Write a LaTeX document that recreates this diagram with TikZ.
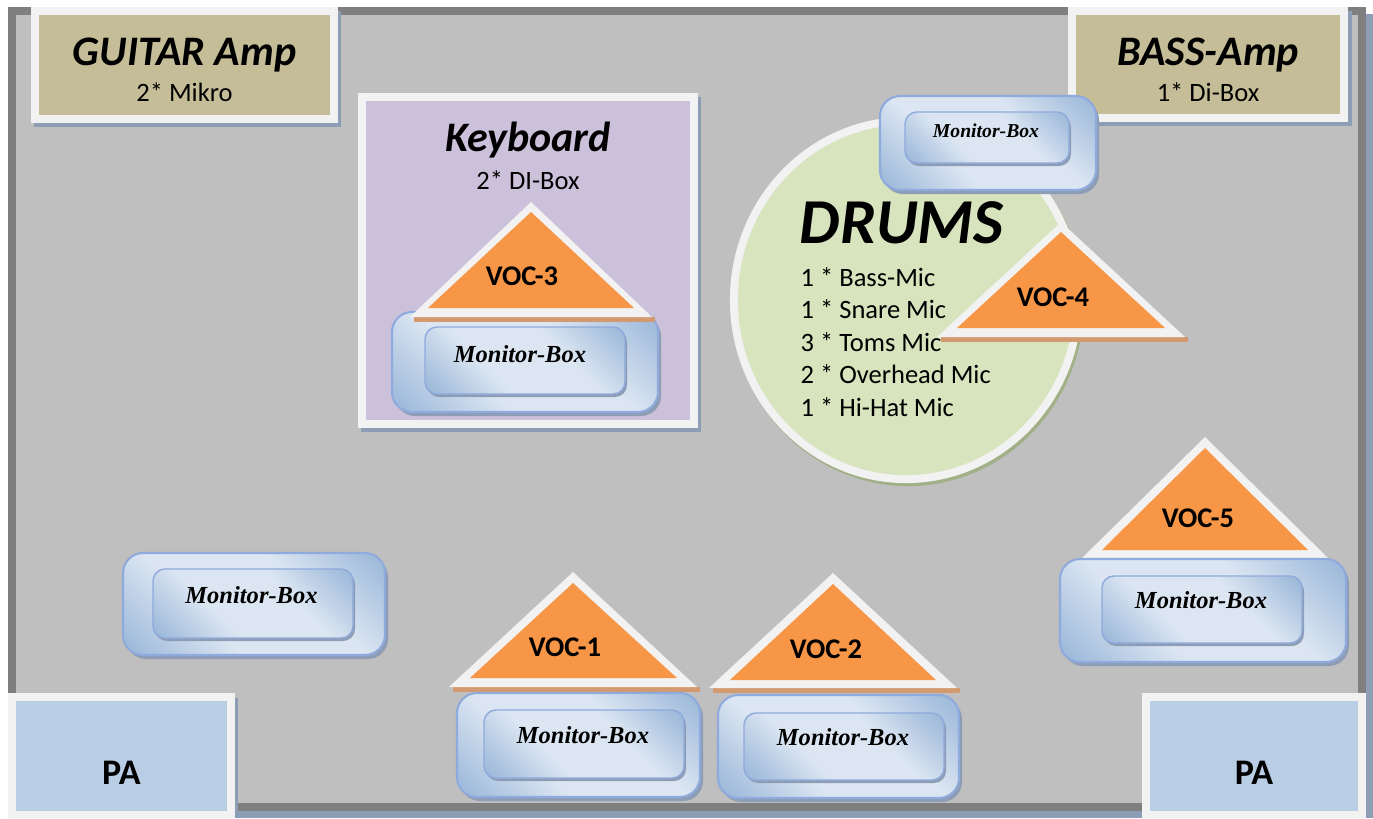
\documentclass[tikz,border=0pt]{standalone}
\usepackage{fontspec}
\setmainfont{Carlito}
\newfontfamily\serifbi{Liberation Serif}
\definecolor{stage}{HTML}{BFBFBF}
\definecolor{framec}{HTML}{7F7F7F}
\definecolor{wb}{HTML}{F2F2F2}
\definecolor{amptan}{HTML}{C4BD97}
\definecolor{kbd}{HTML}{CCC1DA}
\definecolor{drum}{HTML}{D7E4BD}
\definecolor{vocc}{HTML}{F79646}
\definecolor{pac}{HTML}{B9CDE5}
\definecolor{mlight}{HTML}{DCE6F2}
\definecolor{mdark}{HTML}{95B3D7}
\definecolor{mborder}{HTML}{8FAADC}
\definecolor{shadowc}{HTML}{8E9DB6}
\definecolor{oshadowc}{HTML}{D39A70}
\definecolor{gshadowc}{HTML}{A2B088}
\pgfdeclarehorizontalshading{monitor}{100bp}{color(0bp)=(mdark); color(14bp)=(mdark); color(38bp)=(mlight); color(62bp)=(mlight); color(86bp)=(mdark); color(100bp)=(mdark)}
\newcommand{\monbox}[8]{%
  \fill[shadowc,rounded corners=5.7pt] ({#1+3},{#2+4}) rectangle ({#3+3},{#4+4});
  \path[shade,shading=monitor,shading angle=45,draw=mborder,line width=0.6pt,rounded corners=5.7pt] (#1,#2) rectangle (#3,#4);
  \fill[shadowc,rounded corners=3.4pt] ({#5+2},{#6+3}) rectangle ({#7+2},{#8+3});
  \path[shade,shading=monitor,shading angle=45,draw=mborder,line width=0.4pt,rounded corners=3.4pt] (#5,#6) rectangle (#7,#8);
}
\newcommand{\vocshape}[9]{%
  \fill[oshadowc] ({#4+4},#3) rectangle ({#5+3},{#3+4.5});
  \fill[wb] (#1,#2) -- (#5,#3) -- (#4,#3) -- cycle;
  \fill[vocc] (#1,#6) -- (#9,#7) -- (#8,#7) -- cycle;
}
\begin{document}
\begin{tikzpicture}[x=0.01cm,y=-0.01cm,
  title/.style={font=\fontsize{11.95}{14}\selectfont\bfseries\itshape, inner sep=0pt, anchor=base},
  sub/.style={font=\fontsize{7.54}{9}\selectfont, inner sep=0pt, anchor=base},
  miclbl/.style={sub, anchor=base west},
  drumlbl/.style={font=\fontsize{18.2}{21}\selectfont\bfseries\itshape, inner sep=0pt, anchor=base west},
  voclbl/.style={font=\fontsize{8.1}{10}\selectfont\bfseries, inner sep=0pt, anchor=base},
  monlbl/.style={font=\serifbi\fontsize{6.97}{8}\selectfont\bfseries\itshape, inner sep=0pt, anchor=base},
  monlblsmall/.style={font=\serifbi\fontsize{5.6}{7}\selectfont\bfseries\itshape, inner sep=0pt, anchor=base},
  palbl/.style={font=\fontsize{10.24}{12}\selectfont\bfseries, inner sep=0pt, anchor=base}]
\useasboundingbox (0,0) rectangle (1373,818);
% background and stage frame
\fill[white] (0,0) rectangle (1373,818);
\fill[shadowc] (14,14) rectangle (1373,818);
\fill[framec] (8,7) rectangle (1366,811);
\fill[stage] (16,15) rectangle (1358,803);
% PA boxes
\fill[shadowc] (11,698) rectangle (238,818);
\fill[wb] (8,693) rectangle (235,818);
\fill[pac] (16,701) rectangle (227,811);
\fill[wb] (1142,693) rectangle (1366,818);
\fill[pac] (1150,701) rectangle (1358,811);
% Guitar amp
\fill[shadowc] (34,11) rectangle (341,127);
\fill[wb] (31,7) rectangle (338,123);
\fill[amptan] (39,15) rectangle (330,115);
% Bass amp
\fill[shadowc] (1071,11) rectangle (1352,126);
\fill[wb] (1068,7) rectangle (1348,122);
\fill[amptan] (1076,15) rectangle (1340,114);
% Keyboard
\fill[shadowc] (361,97) rectangle (701,432);
\fill[wb] (358,93) rectangle (698,428);
\fill[kbd] (366,101) rectangle (690,420);
\monbox{392}{312}{658}{412}{425}{327}{625}{394}
\vocshape{531}{202}{317}{410}{652}{212}{308}{428}{634}
% Drums
\fill[gshadowc] (908,303) ellipse [x radius=1.76cm, y radius=1.83cm];
\fill[wb] (906,300) ellipse [x radius=1.76cm, y radius=1.83cm];
\fill[drum] (906,300) ellipse [x radius=1.68cm, y radius=1.75cm];
\monbox{880}{96}{1096}{190}{905}{112}{1069}{163}
\vocshape{1061}{222}{337}{937}{1185}{232}{328}{957}{1165}
% front monitors and vocals
\monbox{123}{553}{385}{655}{153}{569}{353}{638}
\vocshape{573}{572}{687}{449}{697}{583}{678}{470}{677}
\monbox{457}{693}{700}{797}{484}{710}{684}{778}
\vocshape{833}{573}{688}{709}{957}{584}{680}{730}{936}
\monbox{718}{695}{959}{798}{744}{713}{944}{780}
\vocshape{1205}{437}{558}{1082}{1328}{448}{550}{1102}{1308}
\monbox{1060}{559}{1346}{662}{1102}{576}{1302}{643}
% texts
\node[title] (gt) at (184.5,65) {GUITAR Amp};
\node[sub] (gs) at (184.5,101) {2* Mikro};
\node[title] (bt) at (1208,65) {BASS-Amp};
\node[sub] (bs) at (1208,101) {1* Di-Box};
\node[title] (kt) at (528,151) {Keyboard};
\node[sub] (ks) at (528,189) {2* DI-Box};
\node[drumlbl] (dt) at (799,243) {DRUMS};
\node[miclbl] (m1) at (800,286) {1 * Bass-Mic};
\node[miclbl] (m2) at (800,318.5) {1 * Snare Mic};
\node[miclbl] (m3) at (800,351) {3 * Toms Mic};
\node[miclbl] (m4) at (800,383.5) {2 * Overhead Mic};
\node[miclbl] (m5) at (800,416) {1 * Hi-Hat Mic};
\node[voclbl] (v3) at (522,285) {VOC-3};
\node[voclbl] (v4) at (1053,306.5) {VOC-4};
\node[voclbl] (v5) at (1198,527) {VOC-5};
\node[voclbl] (v1) at (565,656.5) {VOC-1};
\node[voclbl] (v2) at (826,658) {VOC-2};
\node[monlbl] (mk) at (520,362) {Monitor-Box};
\node[monlblsmall] (md) at (986,137.5) {Monitor-Box};
\node[monlbl] (ml) at (251.5,603.5) {Monitor-Box};
\node[monlbl] (mb1) at (583,743) {Monitor-Box};
\node[monlbl] (mb2) at (843,745) {Monitor-Box};
\node[monlbl] (mr) at (1201,608.5) {Monitor-Box};
\node[palbl] (pl) at (121.5,784) {PA};
\node[palbl] (pr) at (1254,784) {PA};
\end{tikzpicture}
\end{document}
